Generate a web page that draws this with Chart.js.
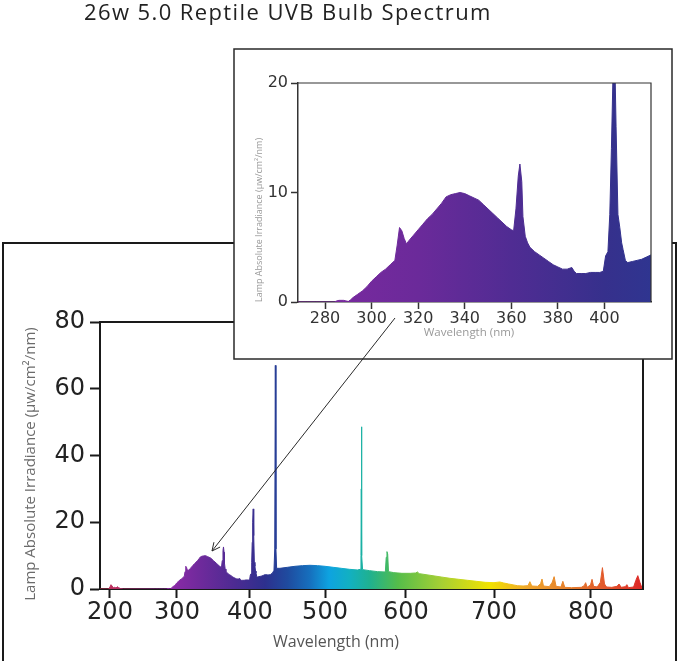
<!DOCTYPE html>
<html>
<head>
<meta charset="utf-8">
<script src="https://cdn.jsdelivr.net/npm/chart.js@4.4.1/dist/chart.umd.min.js"></script>
<style>
  html, body { margin: 0; padding: 0; background: #fff; }
  #wrap { position: relative; width: 679px; height: 661px; overflow: hidden; }
  #wrap canvas { position: absolute; left: 0; top: 0; }
  #title { position: absolute; left: 84px; top: 0px; font: 22px/1 "Open Sans", sans-serif; letter-spacing: 1.4px; color: #222; white-space: nowrap; }
</style>
</head>
<body>
<div id="wrap">
  <canvas id="mainChart" width="679" height="661"></canvas>
  <canvas id="insetChart" width="679" height="661"></canvas>
  <div id="title">26w 5.0 Reptile UVB Bulb Spectrum</div>
</div>
<script>
// Lamp absolute irradiance (µW/cm²/nm) against wavelength (nm)
const deepUvWavelength = [185, 198, 200, 201.5, 203, 205, 207, 209, 211, 213, 216, 220, 266];
const deepUvIrradiance = [0, 0, 0.6, 1.3, 0.9, 0.4, 0.5, 0.3, 0.7, 0.4, 0.1, 0, 0];

// UVB / UVA band, also shown in the zoomed inset
const uvbWavelength = [268, 272, 276, 280, 284, 285, 286, 288, 289, 290, 291, 292, 294, 296, 298, 300,
  302, 304, 306, 308, 310, 311, 312, 313, 314, 315, 316, 318, 320, 322, 324, 326, 328, 330, 332, 334,
  336, 338, 340, 342, 344, 346, 348, 350, 352, 354, 356, 358, 360, 361, 362, 363, 363.7, 364.5, 365,
  366, 367, 368, 370, 372, 374, 376, 378, 380, 382, 384, 386, 387, 388, 390, 392, 394, 396, 398, 399.5,
  400.5, 401.5, 402.3, 403, 403.6, 404.3, 405, 405.8, 406.6, 407.4, 408, 409, 410, 412, 414, 416, 418, 420];
const uvbIrradiance = [0, 0, 0, 0, 0, 0.1, 0.15, 0.15, 0.1, 0.05, 0.2, 0.4, 0.7, 1.0, 1.4, 1.9,
  2.3, 2.7, 3.0, 3.4, 3.8, 5.2, 6.8, 6.5, 5.8, 5.3, 5.6, 6.1, 6.6, 7.1, 7.6, 8.0, 8.5, 9.0, 9.6, 9.8,
  9.9, 10.0, 9.9, 9.7, 9.5, 9.3, 8.9, 8.5, 8.1, 7.7, 7.3, 6.9, 6.6, 6.5, 8.5, 11.5, 12.6, 11.0, 7.8,
  6.0, 5.4, 5.0, 4.6, 4.3, 4.0, 3.7, 3.4, 3.2, 3.0, 3.0, 3.15, 2.8, 2.6, 2.6, 2.6, 2.7, 2.7, 2.7, 2.8,
  4.2, 4.6, 8, 14, 20, 24, 16, 8, 6.8, 5.4, 4.8, 3.8, 3.6, 3.7, 3.8, 3.9, 4.1, 4.3];

// Visible / near infrared band
const visWavelength = [421, 424, 427, 430, 432, 433, 433.8, 434.6, 435.5, 440, 450, 460, 470, 480, 490,
  500, 510, 520, 530, 540, 543.8, 544.4, 544.8, 545, 545.2, 545.6, 546.4, 555, 565, 574.5, 575.6, 576.5, 577.4, 578.4,
  585, 595, 605, 611, 613, 615, 625, 640, 650, 660, 670, 680, 690, 700, 706, 710, 715, 724, 730, 735,
  737, 739, 745, 748, 749.5, 751, 757, 760, 762, 764, 769, 771, 773, 780, 790, 793, 794.5, 796, 799.5,
  801, 802.5, 806, 809, 811, 813, 815, 820, 825, 827, 829, 833, 834.5, 836, 841, 843, 845, 847, 849, 850];
const visIrradiance = [4.3, 4.2, 4.3, 4.8, 5.6, 12, 67, 12, 6.2, 6.2, 6.5, 6.8, 7.0, 7.1, 7.0,
  6.8, 6.5, 6.2, 5.9, 5.7, 5.9, 10, 30, 48.6, 30, 10, 5.8, 5.5, 5.2, 5.1, 9.5, 11.2, 10.5, 5.2,
  4.9, 4.7, 4.7, 4.8, 5.1, 4.6, 4.2, 3.6, 3.2, 2.9, 2.6, 2.3, 2.0, 1.9, 2.1, 1.8, 1.5, 1.0, 0.9, 1.0,
  2.2, 0.9, 0.8, 1.6, 3.0, 0.9, 0.7, 2.0, 3.7, 0.8, 0.6, 2.3, 0.5, 0.4, 0.5, 1.0, 1.9, 0.5, 1.2,
  2.9, 0.8, 0.6, 2.0, 6.4, 1.5, 0.6, 0.5, 0.8, 1.5, 0.5, 0.7, 1.3, 0.4, 0.6, 2.5, 4.0, 2.0, 0.3, 0];

const mainXTicks = [200, 300, 400, 500, 600, 700, 800];
const mainYTicks = [0, 20, 40, 60, 80];
const insetXTicks = [280, 300, 320, 340, 360, 380, 400];
const insetYTicks = [0, 10, 20];

// spectral colours for the fill, by wavelength
const mainStops = [[185, '#c0304f'], [235, '#b02d78'], [288, '#8e2aa8'], [330, '#702a9c'], [380, '#4c2b92'],
  [420, '#2d308e'], [450, '#1f4b9f'], [480, '#1670be'], [505, '#0ea3e0'], [530, '#12b0c2'], [555, '#1fb190'],
  [590, '#55bd4a'], [640, '#a6cf34'], [695, '#f2e300'], [735, '#efa52b'], [780, '#e47a2b'], [815, '#e2562b'], [850, '#dc2525']];
const insetStops = [[268, '#7e29a0'], [320, '#6b2a9a'], [360, '#502c93'], [400, '#36308c'], [420, '#2f3590']];

// the printed x axis is stretched unevenly: value -> fraction of the axis
const xWarpKnots = [[185, 0], [200, 0.0184], [300, 0.1418], [400, 0.2762], [500, 0.4144],
  [600, 0.5635], [700, 0.7256], [800, 0.9042], [850, 1]];

class WarpedLinearScale extends Chart.LinearScale {
  static id = 'warped';
  static defaults = Chart.LinearScale.defaults;
  toDecimal(v) {
    const k = xWarpKnots;
    let i = 1;
    while (i < k.length - 1 && v > k[i][0]) i++;
    return k[i - 1][1] + (v - k[i - 1][0]) / (k[i][0] - k[i - 1][0]) * (k[i][1] - k[i - 1][1]);
  }
  fromDecimal(d) {
    const k = xWarpKnots;
    let i = 1;
    while (i < k.length - 1 && d > k[i][1]) i++;
    return k[i - 1][0] + (d - k[i - 1][1]) / (k[i][1] - k[i - 1][1]) * (k[i][0] - k[i - 1][0]);
  }
  getPixelForValue(value) {
    return value === null || value === undefined ? NaN : this.getPixelForDecimal(this.toDecimal(value));
  }
  getValueForPixel(pixel) {
    return this.fromDecimal(this.getDecimalForPixel(pixel));
  }
}
Chart.register(WarpedLinearScale);

function toPoints(...bands) {
  const pts = [];
  bands.forEach(([xs, ys]) => xs.forEach((x, i) => pts.push({ x, y: ys[i] })));
  return pts;
}

function spectrumFill(stops) {
  return (c) => {
    const chart = c.chart, area = chart.chartArea;
    if (!area) return stops[0][1];
    const xs = chart.scales.x;
    const g = chart.ctx.createLinearGradient(area.left, 0, area.right, 0);
    stops.forEach(([w, col]) => {
      const p = (xs.getPixelForValue(w) - area.left) / (area.right - area.left);
      g.addColorStop(Math.min(1, Math.max(0, p)), col);
    });
    return g;
  };
}

function drawText(ctx, text, x, y, font, color, vertical) {
  ctx.save();
  ctx.translate(x, y);
  if (vertical) ctx.rotate(-Math.PI / 2);
  ctx.font = font;
  ctx.fillStyle = color;
  ctx.textAlign = 'center';
  ctx.textBaseline = vertical ? 'middle' : 'alphabetic';
  ctx.fillText(text, 0, 0);
  ctx.restore();
}

const fixedTicks = (list) => (s) => { s.ticks = list.map(v => ({ value: v })); };

// Main chart
const mainDecor = {
  id: 'mainDecor',
  afterDraw(chart) {
    const { ctx, chartArea: a } = chart;
    ctx.save();
    ctx.strokeStyle = '#1a1a1a';
    ctx.lineWidth = 2;
    ctx.beginPath();
    ctx.moveTo(3, 661); ctx.lineTo(3, 243); ctx.lineTo(676, 243); ctx.lineTo(676, 661);
    ctx.moveTo(a.left, a.top); ctx.lineTo(a.right, a.top); ctx.lineTo(a.right, a.bottom);
    ctx.stroke();
    ctx.restore();
    drawText(ctx, 'Lamp Absolute Irradiance (µw/cm²/nm)', 31, 464, '15px "Open Sans"', '#6b6b6b', true);
    drawText(ctx, 'Wavelength (nm)', 336, 647, '16px "Open Sans"', '#555', false);
  }
};

new Chart(document.getElementById('mainChart'), {
  type: 'line',
  data: {
    datasets: [{
      data: toPoints([deepUvWavelength, deepUvIrradiance], [uvbWavelength, uvbIrradiance], [visWavelength, visIrradiance]),
      fill: 'origin',
      backgroundColor: spectrumFill(mainStops),
      borderColor: spectrumFill(mainStops),
      borderWidth: 1,
      pointRadius: 0,
      tension: 0
    }]
  },
  options: {
    responsive: false,
    animation: false,
    events: [],
    layout: { padding: { left: 0, top: 322, right: 36, bottom: 0 } },
    plugins: { legend: { display: false }, tooltip: { enabled: false } },
    scales: {
      x: {
        type: 'warped', min: 185, max: 850,
        afterBuildTicks: fixedTicks(mainXTicks),
        afterFit: (s) => { s.height = 72; },
        border: { display: true, color: '#1a1a1a', width: 2 },
        grid: { drawOnChartArea: false, tickLength: 9, tickColor: '#1a1a1a', tickWidth: 2 },
        ticks: { font: { family: 'DejaVu Sans', size: 24 }, color: '#222', padding: 0, maxRotation: 0, autoSkip: false }
      },
      y: {
        min: 0, max: 80,
        afterBuildTicks: fixedTicks(mainYTicks),
        afterFit: (s) => { s.width = 100; },
        border: { display: true, color: '#1a1a1a', width: 2 },
        grid: { drawOnChartArea: false, tickLength: 10, tickColor: '#1a1a1a', tickWidth: 2 },
        ticks: { font: { family: 'DejaVu Sans', size: 24 }, color: '#222', padding: 5 }
      }
    }
  },
  plugins: [mainDecor]
});

// Inset (zoom on 270-420 nm)
const insetDecor = {
  id: 'insetDecor',
  beforeDraw(chart) {
    const ctx = chart.ctx;
    ctx.save();
    ctx.fillStyle = '#fff';
    ctx.fillRect(234, 49, 438, 310);
    ctx.strokeStyle = '#2a2a2a';
    ctx.lineWidth = 1.5;
    ctx.strokeRect(234, 49, 438, 310);
    ctx.restore();
  },
  afterDraw(chart) {
    const { ctx, chartArea: a } = chart;
    ctx.save();
    ctx.strokeStyle = '#333';
    ctx.lineWidth = 1.2;
    ctx.beginPath();
    ctx.moveTo(a.left, a.top); ctx.lineTo(a.right, a.top); ctx.lineTo(a.right, a.bottom);
    ctx.stroke();
    // pointer from the inset down to the UVB hump of the main chart
    const x0 = 395, y0 = 318, x1 = 212, y1 = 551;
    const ang = Math.atan2(y1 - y0, x1 - x0);
    ctx.strokeStyle = '#2a2a2a';
    ctx.lineWidth = 1;
    ctx.beginPath();
    ctx.moveTo(x0, y0); ctx.lineTo(x1, y1);
    [-1, 1].forEach(s => {
      ctx.moveTo(x1, y1);
      ctx.lineTo(x1 - 9 * Math.cos(ang + s * 0.45), y1 - 9 * Math.sin(ang + s * 0.45));
    });
    ctx.stroke();
    ctx.restore();
    drawText(ctx, 'Lamp Absolute Irradiance (µw/cm²/nm)', 259.5, 220, '9px "Open Sans"', '#999', true);
    drawText(ctx, 'Wavelength (nm)', 469, 336, '11.5px "Open Sans"', '#999', false);
  }
};

new Chart(document.getElementById('insetChart'), {
  type: 'line',
  data: {
    datasets: [{
      data: toPoints([uvbWavelength, uvbIrradiance]),
      fill: 'origin',
      backgroundColor: spectrumFill(insetStops),
      borderColor: spectrumFill(insetStops),
      borderWidth: 1,
      pointRadius: 0,
      tension: 0
    }]
  },
  options: {
    responsive: false,
    animation: false,
    events: [],
    layout: { padding: { left: 258, top: 83, right: 28, bottom: 319 } },
    plugins: { legend: { display: false }, tooltip: { enabled: false } },
    scales: {
      x: {
        type: 'linear', min: 268.4, max: 420,
        afterBuildTicks: fixedTicks(insetXTicks),
        afterFit: (s) => { s.height = 40; },
        border: { display: true, color: '#333', width: 1.5 },
        grid: { drawOnChartArea: false, tickLength: 7, tickColor: '#333', tickWidth: 1.5 },
        ticks: { font: { family: 'DejaVu Sans', size: 16 }, color: '#333', padding: 0, maxRotation: 0, autoSkip: false }
      },
      y: {
        min: 0, max: 20,
        afterBuildTicks: fixedTicks(insetYTicks),
        afterFit: (s) => { s.width = 40; },
        border: { display: true, color: '#333', width: 1.5 },
        grid: { drawOnChartArea: false, tickLength: 7, tickColor: '#333', tickWidth: 1.5 },
        ticks: { font: { family: 'DejaVu Sans', size: 16 }, color: '#333', padding: 3 }
      }
    }
  },
  plugins: [insetDecor]
});
</script>
</body>
</html>
